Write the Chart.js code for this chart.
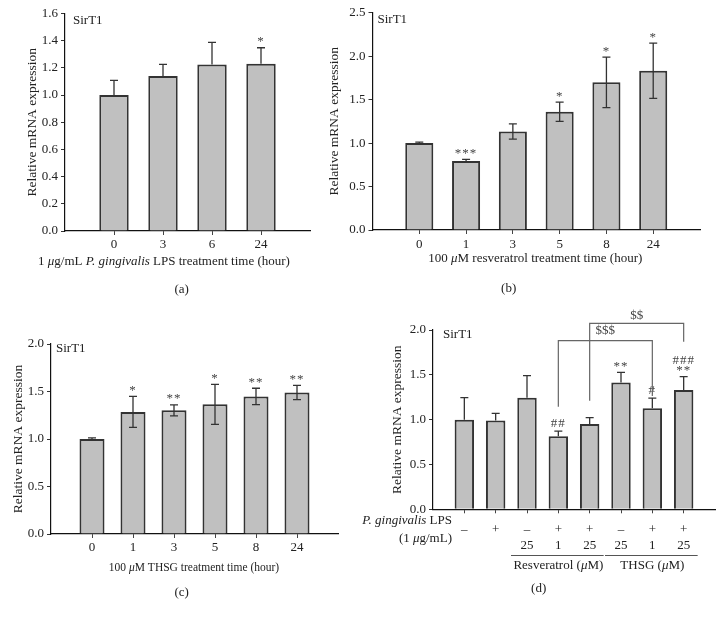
<!DOCTYPE html>
<html>
<head>
<meta charset="utf-8">
<script src="https://cdn.jsdelivr.net/npm/chart.js@4"></script>
<style>
  body { margin: 0; background: #fff; width: 724px; height: 618px; overflow: hidden; position: relative; }
  canvas { position: absolute; }
</style>
</head>
<body>
<canvas id="pa" width="340" height="305" style="left:0;top:0"></canvas>
<canvas id="pb" width="424" height="305" style="left:300px;top:0"></canvas>
<canvas id="pc" width="360" height="313" style="left:0;top:305px"></canvas>
<canvas id="pd" width="384" height="313" style="left:340px;top:305px"></canvas>
<script>
// (a) LPS time course
const aLabels = ['0', '3', '6', '24'];
const aMean = [1.0, 1.14, 1.225, 1.23];
const aSD = [0.108, 0.086, 0.162, 0.118];
const aSig = ['', '', '', '*'];

// (b) resveratrol time course
const bLabels = ['0', '1', '3', '5', '8', '24'];
const bMean = [1.0, 0.795, 1.133, 1.361, 1.699, 1.833];
const bSD = [0.01, 0.018, 0.088, 0.111, 0.29, 0.318];
const bSig = ['', '***', '', '*', '*', '*'];

// (c) THSG time course
const cLabels = ['0', '1', '3', '5', '8', '24'];
const cMean = [1.0, 1.285, 1.302, 1.365, 1.448, 1.49];
const cSD = [0.012, 0.163, 0.058, 0.21, 0.086, 0.075];
const cSig = ['', '*', '**', '*', '**', '**'];

// (d) combined treatments
const dLPS = ['–', '+', '–', '+', '+', '–', '+', '+'];
const dDose = ['', '', '25', '1', '25', '25', '1', '25'];
const dMean = [1.0, 0.99, 1.243, 0.816, 0.952, 1.415, 1.127, 1.331];
const dSD = [0.246, 0.081, 0.249, 0.055, 0.071, 0.113, 0.112, 0.149];
const dSig = ['', '', '', '##', '', '**', '#', '###\n**'];
const dGroups = [
  { label: [['Resveratrol (', false], ['μ', true], ['M)', false]], from: 2, to: 4, mid: 3 },
  { label: [['THSG (', false], ['μ', true], ['M)', false]], from: 5, to: 7, mid: 6 }
];
const dBrackets = [
  { label: '$$$', from: 3, to: 6, top: 1.881, legL: 1.145, legR: 1.264, labelY: 1.963 },
  { label: '$$', from: 4, to: 7, top: 2.075, legL: 1.211, legR: 1.87, labelY: 2.178 }
];

const FONT = '"Liberation Serif", "Times New Roman", serif';
const INK = '#222';
function font(size, italic) { return (italic ? 'italic ' : '') + size + 'px ' + FONT; }

function rich(ctx, parts, x, y, size, align) {
  let total = 0;
  const widths = parts.map(p => {
    ctx.font = font(size, p[1]);
    const w = ctx.measureText(p[0]).width;
    total += w;
    return w;
  });
  let cx = align === 'center' ? x - total / 2 : align === 'right' ? x - total : x;
  ctx.textAlign = 'left';
  ctx.textBaseline = 'middle';
  parts.forEach((p, i) => {
    ctx.font = font(size, p[1]);
    ctx.fillText(p[0], cx, y);
    cx += widths[i];
  });
}

// draw a short string so that its visible glyphs are centred on cy
function glyphAt(ctx, s, x, cy) {
  const m = ctx.measureText(s);
  ctx.textAlign = 'center';
  ctx.textBaseline = 'alphabetic';
  ctx.fillText(s, x, cy + (m.actualBoundingBoxAscent - m.actualBoundingBoxDescent) / 2);
}

const decor = {
  id: 'decor',
  afterDraw(chart, args, o) {
    const ctx = chart.ctx;
    const meta = chart.getDatasetMeta(0);
    const y = chart.scales.y;
    const area = chart.chartArea;
    ctx.save();
    ctx.fillStyle = INK;

    // error bars + significance marks
    o.mean.forEach((m, i) => {
      const x = meta.data[i + 1].x;
      const top = y.getPixelForValue(m + o.sd[i]);
      const bot = o.twoSided ? y.getPixelForValue(m - o.sd[i]) : y.getPixelForValue(m);
      ctx.strokeStyle = '#333';
      ctx.lineWidth = 1.3;
      ctx.beginPath();
      ctx.moveTo(x, bot); ctx.lineTo(x, top);
      ctx.moveTo(x - 4, top); ctx.lineTo(x + 4, top);
      if (o.twoSided) { ctx.moveTo(x - 4, bot); ctx.lineTo(x + 4, bot); }
      ctx.stroke();

      if (o.sig[i]) {
        const lines = o.sig[i].split('\n').reverse();
        ctx.fillStyle = '#444';
        ctx.font = font(13, false);
        ctx.letterSpacing = '1px';
        lines.forEach((s, k) => glyphAt(ctx, s, x, top - 8 - k * 9));
        ctx.letterSpacing = '0px';
        ctx.fillStyle = INK;
      }
    });

    // gene label
    ctx.font = font(13, false);
    ctx.textAlign = 'left';
    ctx.textBaseline = 'middle';
    ctx.fillText('SirT1', area.left + o.sirt[0], area.top + o.sirt[1]);

    if (o.xTitle) rich(ctx, o.xTitle.parts, o.xTitle.x, o.xTitle.y, o.xTitle.size, 'center');
    ctx.font = font(13, false);
    ctx.textAlign = 'center';
    ctx.textBaseline = 'middle';
    ctx.fillText(o.caption.text, o.caption.x, o.caption.y);

    if (o.extra) o.extra(chart, ctx, meta, y);
    ctx.restore();
  }
};

function drawD(chart, ctx, meta, y) {
  // comparison brackets
  ctx.strokeStyle = '#666';
  ctx.lineWidth = 1.2;
  ctx.fillStyle = '#444';
  dBrackets.forEach(b => {
    const x1 = meta.data[b.from + 1].x, x2 = meta.data[b.to + 1].x;
    const yt = y.getPixelForValue(b.top);
    ctx.beginPath();
    ctx.moveTo(x1, y.getPixelForValue(b.legL));
    ctx.lineTo(x1, yt);
    ctx.lineTo(x2, yt);
    ctx.lineTo(x2, y.getPixelForValue(b.legR));
    ctx.stroke();
    ctx.font = font(13, false);
    glyphAt(ctx, b.label, (x1 + x2) / 2, y.getPixelForValue(b.labelY));
  });

  // treatment table under the axis
  ctx.fillStyle = INK;
  rich(ctx, [['P. gingivalis', true], [' LPS', false]], 112, 216, 13, 'right');
  rich(ctx, [['(1 ', false], ['μ', true], ['g/mL)', false]], 112, 234, 13, 'right');
  ctx.strokeStyle = '#555';
  ctx.lineWidth = 1;
  dGroups.forEach(g => {
    const xa = meta.data[g.from + 1].x - 16, xb = meta.data[g.to + 1].x + 14;
    ctx.beginPath();
    ctx.moveTo(xa, 250.5); ctx.lineTo(xb, 250.5);
    ctx.stroke();
    rich(ctx, g.label, meta.data[g.mid + 1].x, 261, 13, 'center');
  });
}

function makeChart(o) {
  const canvas = document.getElementById(o.canvas);
  const W = canvas.width, H = canvas.height;
  const n = o.labels.length;
  new Chart(canvas, {
    type: 'bar',
    data: {
      labels: [''].concat(o.labels, ['']),
      datasets: [{
        data: [null].concat(o.mean, [null]),
        backgroundColor: '#c0c0c0',
        borderColor: '#333',
        borderWidth: 2,
        borderSkipped: 'start',
        categoryPercentage: 1,
        barPercentage: o.barPct
      }]
    },
    options: {
      responsive: false,
      animation: false,
      events: [],
      layout: { padding: { left: 0, top: o.area.top, right: W - o.area.right, bottom: 0 } },
      plugins: { legend: { display: false }, tooltip: { enabled: false }, decor: o },
      scales: {
        x: {
          type: 'category',
          offset: false,
          grid: {
            offset: false,
            drawOnChartArea: false,
            tickLength: 4,
            tickWidth: 1,
            tickColor: c => (c.index === 0 || c.index === n + 1) ? 'rgba(0,0,0,0)' : '#444'
          },
          border: { color: '#111', width: 1.2 },
          ticks: {
            color: INK, autoSkip: false, maxRotation: 0, padding: o.xPad,
            font: { family: FONT, size: 13, lineHeight: o.lineH || 1.2 }
          },
          afterFit: s => { s.height = H - o.area.bottom; }
        },
        y: {
          min: 0, max: o.yMax,
          grid: { drawOnChartArea: false, tickLength: 4, tickColor: '#333' },
          border: { color: '#111', width: 1.2 },
          ticks: {
            stepSize: o.step, padding: 3, color: INK,
            font: { family: FONT, size: 13 },
            callback: v => v.toFixed(1)
          },
          title: {
            display: true, text: 'Relative mRNA expression', color: INK,
            font: { family: FONT, size: 13.5 }, padding: { top: o.titlePad, bottom: 0 }
          },
          afterFit: s => { s.width = o.area.left; }
        }
      }
    },
    plugins: [decor]
  });
}

makeChart({
  canvas: 'pa', labels: aLabels, mean: aMean, sd: aSD, sig: aSig, twoSided: false,
  yMax: 1.6, step: 0.2, area: { left: 65, right: 310, top: 13.5, bottom: 231 },
  titlePad: 24, xPad: 2.2, barPct: 0.6, sirt: [8, 7],
  xTitle: { parts: [['1 ', false], ['μ', true], ['g/mL ', false], ['P. gingivalis', true], [' LPS treatment time (hour)', false]], x: 164, y: 262, size: 13 },
  caption: { text: '(a)', x: 181.7, y: 290 }
});

makeChart({
  canvas: 'pb', labels: bLabels, mean: bMean, sd: bSD, sig: bSig, twoSided: true,
  yMax: 2.5, step: 0.5, area: { left: 72.5, right: 400, top: 12.7, bottom: 230 },
  titlePad: 26, xPad: 3.2, barPct: 0.6, sirt: [5, 7],
  xTitle: { parts: [['100 ', false], ['μ', true], ['M resveratrol treatment time (hour)', false]], x: 235.3, y: 259, size: 13 },
  caption: { text: '(b)', x: 208.7, y: 289 }
});

makeChart({
  canvas: 'pc', labels: cLabels, mean: cMean, sd: cSD, sig: cSig, twoSided: true,
  yMax: 2.0, step: 0.5, area: { left: 51, right: 338, top: 39, bottom: 229 },
  titlePad: 10, xPad: 2.2, barPct: 0.61, sirt: [5, 5],
  xTitle: { parts: [['100 ', false], ['μ', true], ['M THSG treatment time (hour)', false]], x: 194, y: 262.7, size: 11.5 },
  caption: { text: '(c)', x: 181.7, y: 287.7 }
});

makeChart({
  canvas: 'pd', labels: dLPS.map((s, i) => [s, dDose[i]]), mean: dMean, sd: dSD, sig: dSig, twoSided: false,
  yMax: 2.0, step: 0.5, area: { left: 93, right: 375, top: 25, bottom: 204.3 },
  titlePad: 49, xPad: 8.7, lineH: 1.23, barPct: 0.62, sirt: [10, 5],
  caption: { text: '(d)', x: 198.7, y: 284 },
  extra: drawD
});
</script>
</body>
</html>
